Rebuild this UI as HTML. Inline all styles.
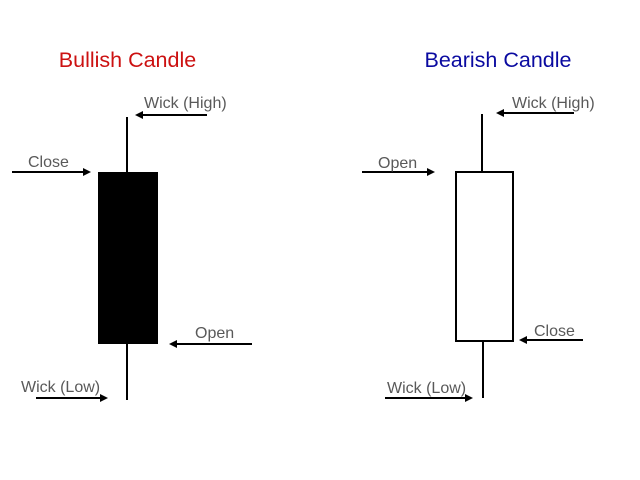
<!DOCTYPE html>
<html>
<head>
<meta charset="utf-8">
<style>
html,body{margin:0;padding:0;background:#fff;}
svg{display:block;}
text{font-family:"Liberation Sans","DejaVu Sans",sans-serif;}
</style>
</head>
<body>
<svg width="640" height="480" viewBox="0 0 640 480" xmlns="http://www.w3.org/2000/svg">
<rect width="640" height="480" fill="#fff"/>
<!-- Titles -->
<text x="127.5" y="67" font-size="21.5" fill="#cc1111" text-anchor="middle">Bullish Candle</text>
<text x="498" y="67" font-size="21.5" fill="#0a0aa0" text-anchor="middle">Bearish Candle</text>

<g stroke="#000" stroke-width="2" fill="none">
  <!-- Bullish -->
  <line x1="127" y1="117" x2="127" y2="173"/>
  <line x1="127" y1="344" x2="127" y2="400"/>
  <!-- Bearish -->
  <line x1="482" y1="114" x2="482" y2="172"/>
  <line x1="483" y1="341" x2="483" y2="398"/>
  <rect x="456" y="172" width="57" height="169"/>
  <!-- arrows lines -->
  <line x1="207" y1="115" x2="141" y2="115"/>
  <line x1="12" y1="172" x2="85" y2="172"/>
  <line x1="252" y1="344" x2="175" y2="344"/>
  <line x1="36" y1="398" x2="102" y2="398"/>
  <line x1="574" y1="113" x2="502" y2="113"/>
  <line x1="362" y1="172" x2="428" y2="172"/>
  <line x1="583" y1="340" x2="525" y2="340"/>
  <line x1="385" y1="398" x2="466" y2="398"/>
</g>
<rect x="98" y="172" width="60" height="172" fill="#000"/>

<g fill="#000">
  <polygon points="135,115 143,111 143,119"/>
  <polygon points="91,172 83,168 83,176"/>
  <polygon points="169,344 177,340 177,348"/>
  <polygon points="108,398 100,394 100,402"/>
  <polygon points="496,113 504,109 504,117"/>
  <polygon points="435,172 427,168 427,176"/>
  <polygon points="519,340 527,336 527,344"/>
  <polygon points="473,398 465,394 465,402"/>
</g>

<g font-size="16" fill="#595959">
  <text x="144" y="108">Wick (High)</text>
  <text x="28" y="167">Close</text>
  <text x="195" y="338">Open</text>
  <text x="21" y="392">Wick (Low)</text>
  <text x="512" y="108">Wick (High)</text>
  <text x="378" y="168">Open</text>
  <text x="534" y="336">Close</text>
  <text x="387" y="393">Wick (Low)</text>
</g>
</svg>
</body>
</html>
